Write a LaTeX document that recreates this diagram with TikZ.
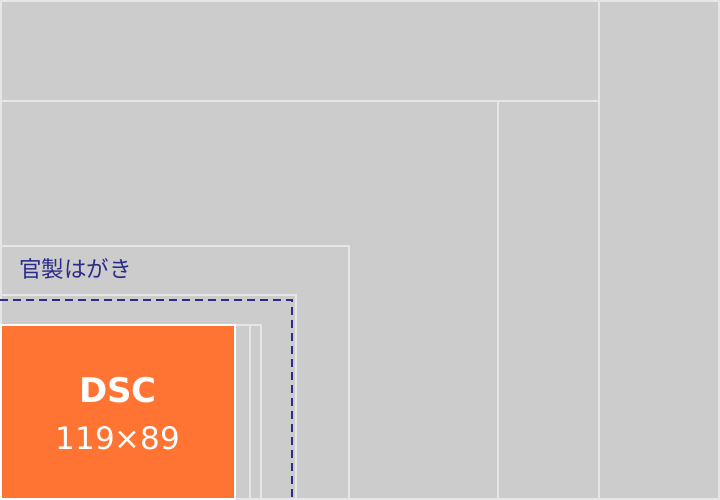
\documentclass[tikz,border=0pt]{standalone}
\usepackage{fontspec}
\setmainfont{DejaVu Sans}
\newfontfamily\cjkfont{Noto Sans CJK JP}
\definecolor{bggray}{HTML}{CCCCCC}
\definecolor{edgegray}{HTML}{E6E6E6}
\definecolor{dscorange}{HTML}{FF7433}
\definecolor{navy}{HTML}{2B2B88}
\begin{document}
\begin{tikzpicture}[x=1pt,y=-1pt,
  paper/.style={fill=bggray,draw=edgegray,line width=2.2pt},
  dscbox/.style={fill=dscorange,draw=white,line width=2.2pt},
  guide/.style={draw=navy,line width=2pt,dash pattern=on 8pt off 5pt}]
\useasboundingbox (0,0) rectangle (720,500);
\fill[bggray] (0,0) rectangle (720,500);
\draw[paper] (1,499) rectangle (719,1);
\draw[paper] (1,499) rectangle (599,1);
\draw[paper] (1,499) rectangle (599,101);
\draw[paper] (1,499) rectangle (498,101);
\draw[paper] (1,499) rectangle (349,246);
\draw[paper] (1,499) rectangle (296,295);
\draw[guide] (0,300) -- (292,300) -- (292,500);
\draw[paper] (1,499) rectangle (261,325);
\draw[paper] (1,499) rectangle (250,325);
\draw[dscbox] (1,499) rectangle (235,325);
\node[anchor=west,inner sep=0pt,text=navy,font=\cjkfont\fontsize{22.5}{26}\selectfont] (hagaki) at (19,269) {官製はがき};
\node[inner sep=0pt,text=white,font=\bfseries\fontsize{34}{40}\selectfont] (dsc) at (118,390) {DSC};
\node[inner sep=0pt,text=white,font=\fontsize{31}{36}\selectfont] (size) at (118,438) {119×89};
\end{tikzpicture}
\end{document}
